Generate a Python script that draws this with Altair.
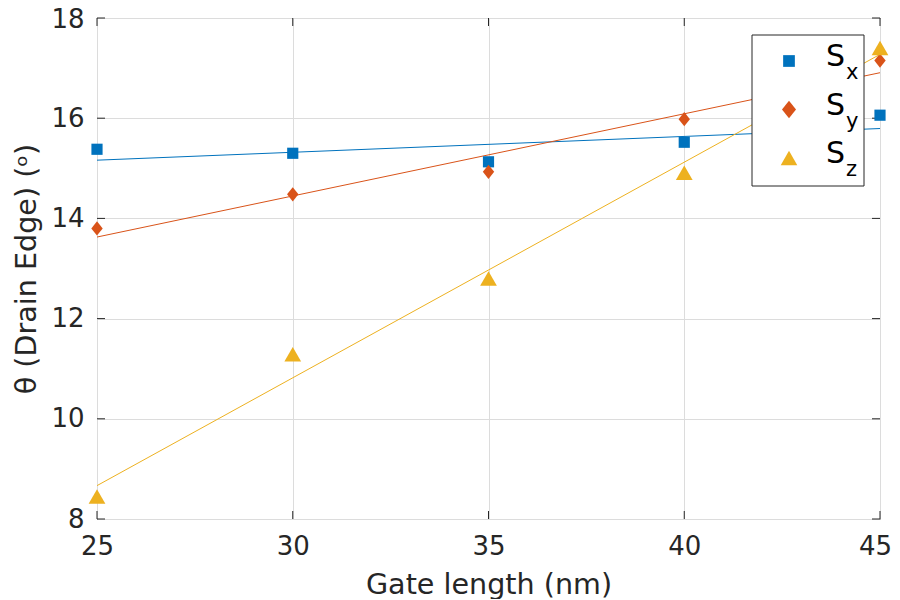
import altair as alt
import pandas as pd

# ---- data ----
gate_length = [25, 30, 35, 40, 45]
sx = [15.38, 15.30, 15.13, 15.52, 16.06]
sy = [13.80, 14.48, 14.93, 15.98, 17.15]
sz = [8.45, 11.29, 12.80, 14.91, 17.40]
series_names = ["Sx", "Sy", "Sz"]
subscripts = ["x", "y", "z"]
x_ticks = [25, 30, 35, 40, 45]
y_ticks = [8, 10, 12, 14, 16, 18]

colors = ["#0072BD", "#D95319", "#EDB120"]
shapes = ["square", "M-0.8,0L0,-1L0.8,0L0,1Z", "M0,-0.87L1,0.87L-1,0.87Z"]
sizes = [125, 280, 250]
INK = "#262626"
FONT = "DejaVu Sans"

W, H = 783, 501

rows = []
for name, vals in zip(series_names, [sx, sy, sz]):
    for g, v in zip(gate_length, vals):
        rows.append({"gate": g, "value": v, "series": name})
df = pd.DataFrame(rows)

xscale = alt.Scale(domain=[25, 45], nice=False, zero=False)
yscale = alt.Scale(domain=[8, 18], nice=False, zero=False)
cscale = alt.Scale(domain=series_names, range=colors)
sscale = alt.Scale(domain=series_names, range=shapes)
zscale = alt.Scale(domain=series_names, range=sizes)

axis_style = dict(
    grid=True, ticks=False, domain=False, labelFlush=False, format="d",
    labelFont=FONT, titleFont=FONT, labelFontSize=26, titleFontSize=28.6,
    labelColor=INK, titleColor=INK, titleFontWeight="normal",
    gridColor="#dcdcdc", gridWidth=1,
)
xaxis = alt.Axis(values=x_ticks, title="Gate length (nm)",
                 labelPadding=14, titlePadding=11,
                 labelOffset={"condition": {"test": "datum.value == 45", "value": -5},
                              "value": 0},
                 **axis_style)
yaxis = alt.Axis(values=y_ticks, title="θ (Drain Edge) (ᵒ)",
                 labelPadding=13, titlePadding=9,
                 labelOffset={"condition": {"test": "datum.value == 18", "value": 1},
                              "value": 0},
                 **axis_style)

base = alt.Chart(df)

fits = base.transform_regression(
    "gate", "value", groupby=["series"], extent=[25, 45]
).mark_line(strokeWidth=1, clip=True).encode(
    x=alt.X("gate:Q", scale=xscale, axis=xaxis),
    y=alt.Y("value:Q", scale=yscale, axis=yaxis),
    color=alt.Color("series:N", scale=cscale, legend=None),
)

points = base.mark_point(filled=True, opacity=1).encode(
    x=alt.X("gate:Q", scale=xscale),
    y=alt.Y("value:Q", scale=yscale),
    color=alt.Color("series:N", scale=cscale, legend=None),
    shape=alt.Shape("series:N", scale=sscale, legend=None),
    size=alt.Size("series:N", scale=zscale, legend=None),
)

# inward tick marks on all four sides
ydf = pd.DataFrame({"t": y_ticks})
xdf = pd.DataFrame({"t": x_ticks})
tl = 8
ticks_left = alt.Chart(ydf).mark_rule(color=INK, strokeWidth=1).encode(
    y=alt.Y("t:Q", scale=yscale), x=alt.value(0), x2=alt.value(tl))
ticks_right = alt.Chart(ydf).mark_rule(color=INK, strokeWidth=1).encode(
    y=alt.Y("t:Q", scale=yscale), x=alt.value(W - tl), x2=alt.value(W))
ticks_bottom = alt.Chart(xdf).mark_rule(color=INK, strokeWidth=1).encode(
    x=alt.X("t:Q", scale=xscale), y=alt.value(H - tl), y2=alt.value(H))
ticks_top = alt.Chart(xdf).mark_rule(color=INK, strokeWidth=1).encode(
    x=alt.X("t:Q", scale=xscale), y=alt.value(0), y2=alt.value(tl))

# custom legend box with subscripts
one = pd.DataFrame({"k": [0]})
leg_left, leg_right, leg_top, leg_bottom = 655, 767, 17, 168
legend_box = alt.Chart(one).mark_rect(fill="white", stroke=INK, strokeWidth=1).encode(
    x=alt.value(leg_left), x2=alt.value(leg_right),
    y=alt.value(leg_top), y2=alt.value(leg_bottom))

legend_layers = [legend_box]
for i, name in enumerate(series_names):
    yc = 43 + i * 48.5
    legend_layers.append(
        alt.Chart(one).mark_point(filled=True, opacity=1, shape=shapes[i],
                                  size=sizes[i] * 1.1, color=colors[i]).encode(
            x=alt.value(692), y=alt.value(yc)))
    legend_layers.append(
        alt.Chart(one).mark_text(text="S", font=FONT, fontSize=30, color="black",
                                 align="left", baseline="alphabetic").encode(
            x=alt.value(729), y=alt.value(yc + 5)))
    legend_layers.append(
        alt.Chart(one).mark_text(text=subscripts[i], font=FONT, fontSize=21, color="black",
                                 align="left", baseline="alphabetic").encode(
            x=alt.value(749), y=alt.value(yc + 18)))

chart = alt.layer(
    fits, ticks_left, ticks_right, ticks_bottom, ticks_top, points, *legend_layers
).properties(
    width=W, height=H,
    autosize=alt.AutoSizeParams(type="none"),
    padding={"left": 89, "top": 10, "right": 12, "bottom": 80},
    background="white",
).configure_view(
    stroke=INK, strokeWidth=1
)

chart.save("out.html", embed_options={"renderer": "svg", "actions": False})
